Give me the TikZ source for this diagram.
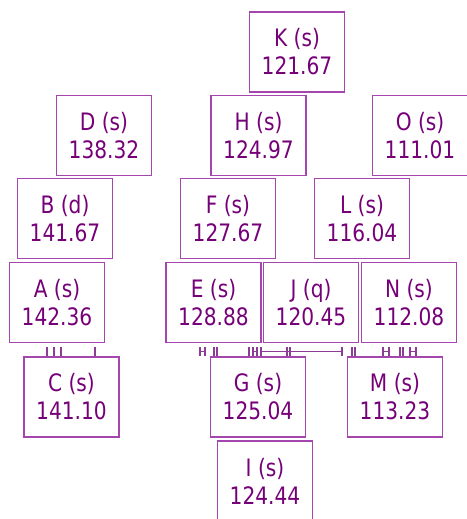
\documentclass[tikz,border=0pt]{standalone}
\usepackage{fontspec}
\setmainfont{DejaVu Sans}[FakeStretch=0.84]
\usepackage{xcolor}
\usetikzlibrary{positioning}
\definecolor{boxPurple}{RGB}{165,70,175}
\definecolor{txtPurple}{RGB}{118,0,120}
\tikzset{
  shiftbox/.style={draw=boxPurple, line width=1.3pt, fill=white, text=txtPurple,
    minimum width=95pt, minimum height=80pt, align=center, inner sep=0pt,
    font=\fontsize{24}{28}\selectfont},
  tickmark/.style={draw=boxPurple!85!black, line width=1.4pt}
}
\begin{document}
\begin{tikzpicture}[x=1pt,y=-1pt]
\useasboundingbox (0,0) rectangle (466,519);

% top rows
\node[shiftbox] (K) at (297,52) {K (s)\\121.67};
\node[shiftbox] (D) at (104,135.5) {D (s)\\138.32};
\node[shiftbox] (H) at (258.5,135.5) {H (s)\\124.97};
\node[shiftbox] (O) at (420,135.5) {O (s)\\111.01};
\node[shiftbox] (B) at (65,218.5) {B (d)\\141.67};
\node[shiftbox] (F) at (228,218.5) {F (s)\\127.67};
\node[shiftbox] (L) at (362,218.5) {L (s)\\116.04};
\node[shiftbox] (A) at (57,302.5) {A (s)\\142.36};
\node[shiftbox] (E) at (213.5,302.5) {E (s)\\128.88};
\node[shiftbox] (J) at (311,302.5) {J (q)\\120.45};
\node[shiftbox] (N) at (409,302.5) {N (s)\\112.08};

% lower rows
\node[shiftbox] (C) at (71.5,397) {C (s)\\141.10};
\node[shiftbox] (G) at (258,397) {G (s)\\125.04};
\node[shiftbox] (M) at (395,397) {M (s)\\113.23};
\node[shiftbox] (I) at (265,481) {I (s)\\124.44};

% peak ticks
\foreach \x in {47,54,61,95,200,205,214,217,249,253,257,261,287,290,342,352,355,383,389,400,403,410,416}
  \draw[tickmark] (\x,347) -- (\x,356);
\foreach \a/\b in {200/205,253/257,261/342,383/389,410/416}
  \draw[tickmark, line width=1pt] (\a,351.5) -- (\b,351.5);
\end{tikzpicture}
\end{document}
